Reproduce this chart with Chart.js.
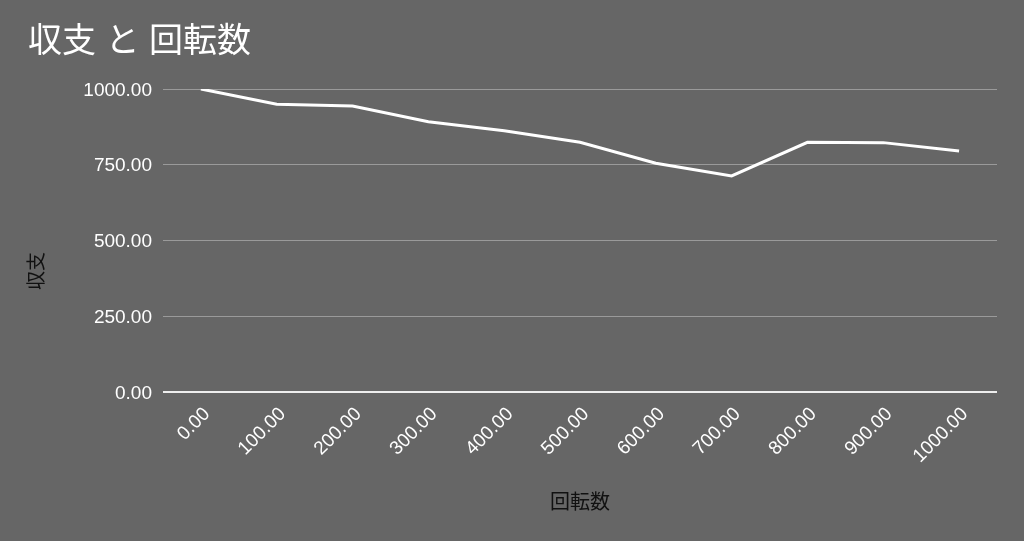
<!DOCTYPE html>
<html>
<head>
<meta charset="utf-8">
<script src="https://cdn.jsdelivr.net/npm/chart.js@4/dist/chart.umd.min.js"></script>
<style>
  html, body { margin: 0; padding: 0; background: #666666; }
  #wrap { width: 1024px; height: 541px; position: relative; }
</style>
</head>
<body>
<div id="wrap"><canvas id="c" width="1024" height="541"></canvas></div>
<script>
const chartTitle = '収支 と 回転数';
const xTitle = '回転数';
const yTitle = '収支';
const spins = [0, 100, 200, 300, 400, 500, 600, 700, 800, 900, 1000];
const balance = [1000, 950, 944, 892, 862, 824, 755, 713, 824, 823, 795];
const yTicks = [0, 250, 500, 750, 1000];

const FONT = '"Liberation Sans", Arial, "Noto Sans CJK JP", sans-serif';

const yTitlePlugin = {
  id: 'yTitle',
  afterDraw(chart) {
    const ctx = chart.ctx;
    ctx.save();
    ctx.translate(38, 271);
    ctx.rotate(-Math.PI / 2);
    ctx.font = '19px ' + FONT;
    ctx.fillStyle = '#111111';
    ctx.textAlign = 'center';
    ctx.textBaseline = 'middle';
    ctx.fillText(yTitle, 0, 0);
    ctx.restore();
  }
};

new Chart(document.getElementById('c'), {
  type: 'line',
  data: {
    labels: spins,
    datasets: [{
      data: balance,
      borderColor: '#ffffff',
      borderWidth: 3,
      pointRadius: 0,
      tension: 0,
      fill: false
    }]
  },
  options: {
    responsive: false,
    animation: false,
    devicePixelRatio: 1,
    layout: { padding: { left: 28, right: 27, top: 0, bottom: 0 } },
    plugins: {
      legend: { display: false },
      tooltip: { enabled: false },
      title: {
        display: true,
        text: chartTitle,
        align: 'start',
        color: '#ffffff',
        font: { family: FONT, size: 34, weight: 'normal' },
        padding: { top: 22, bottom: 26.2 }
      }
    },
    scales: {
      x: {
        type: 'category',
        offset: true,
        grid: { display: false, drawTicks: false },
        border: { display: false },
        ticks: {
          color: '#ffffff',
          font: { family: FONT, size: 19 },
          maxRotation: 45,
          minRotation: 45,
          padding: 11,
          labelOffset: 6,
          autoSkip: false,
          callback: function(v, i) { return Number(spins[i]).toFixed(2); }
        },
        title: {
          display: true,
          text: xTitle,
          color: '#111111',
          font: { family: FONT, size: 20 },
          padding: { top: 4, bottom: 26 }
        },
        afterFit(scale) { scale.height = 149; }
      },
      y: {
        min: 0,
        max: 1000,
        afterBuildTicks(scale) { scale.ticks = yTicks.map(v => ({ value: v })); },
        grid: {
          drawTicks: false,
          color: ctx => ctx.tick && ctx.tick.value === 0 ? '#eeeeee' : '#9a9a9a',
          lineWidth: ctx => ctx.tick && ctx.tick.value === 0 ? 2 : 1
        },
        border: { display: false },
        ticks: {
          color: '#ffffff',
          font: { family: FONT, size: 19 },
          padding: 11,
          labelOffset: 1.5,
          callback: v => Number(v).toFixed(2)
        },
        afterFit(scale) { scale.width = 135; }
      }
    }
  },
  plugins: [yTitlePlugin]
});
</script>
</body>
</html>
